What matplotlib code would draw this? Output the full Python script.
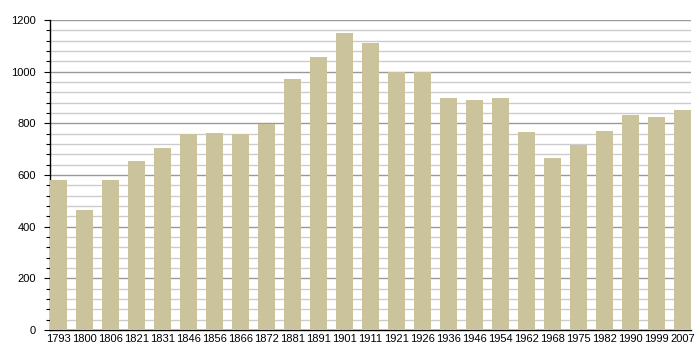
import matplotlib
matplotlib.use("Agg")
import matplotlib.pyplot as plt
from matplotlib.ticker import MultipleLocator

years = ["1793", "1800", "1806", "1821", "1831", "1846", "1856", "1866", "1872",
         "1881", "1891", "1901", "1911", "1921", "1926", "1936", "1946", "1954",
         "1962", "1968", "1975", "1982", "1990", "1999", "2007"]
population = [581, 465, 581, 654, 706, 757, 763, 757, 796,
              972, 1055, 1151, 1112, 999, 999, 898, 890, 898,
              766, 666, 715, 770, 833, 824, 852]

plt.rcParams['font.family'] = ['Liberation Sans', 'DejaVu Sans']

fig = plt.figure(figsize=(7, 3.6), dpi=100)
ax = fig.add_axes([50 / 700, 30 / 360, 641 / 700, 310 / 360])

x = range(len(years))
ax.bar(x, population, width=0.65, color='#cbc39b', zorder=3)

ax.set_xlim(-0.325, len(years) - 1 + 0.325)
ax.set_ylim(0, 1200)
ax.set_xticks(list(x))
ax.set_xticklabels(years, fontsize=8)
ax.yaxis.set_major_locator(MultipleLocator(200))
ax.yaxis.set_minor_locator(MultipleLocator(40))
ax.tick_params(axis='y', which='major', labelsize=8, length=4, width=0.8, pad=6)
ax.tick_params(axis='y', which='minor', length=3, width=0.8)
ax.tick_params(axis='x', length=0, pad=3)

ax.grid(axis='y', which='major', color='#999999', linewidth=1, zorder=0)
ax.grid(axis='y', which='minor', color='#cccccc', linewidth=1, zorder=0)

for side in ['top', 'right']:
    ax.spines[side].set_visible(False)
ax.spines['left'].set_linewidth(1)
ax.spines['bottom'].set_linewidth(1)

fig.savefig("out.png", dpi=100)
